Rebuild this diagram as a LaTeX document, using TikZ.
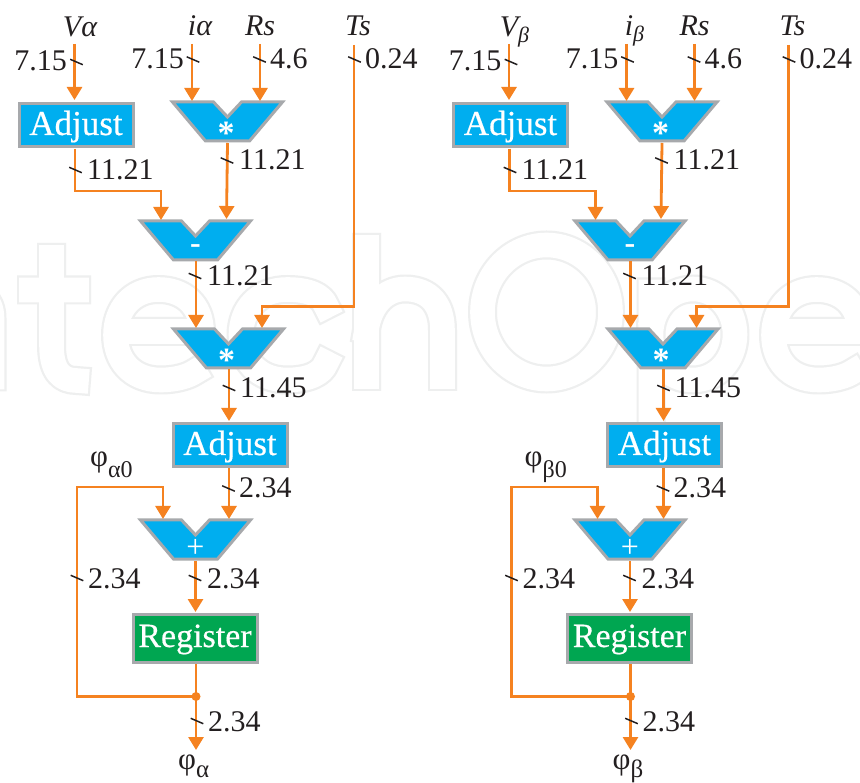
\documentclass[tikz,border=0pt]{standalone}
\usepackage{fontspec}
\setmainfont{Liberation Serif}
\newfontfamily\boxfont[FakeBold=0.45]{Liberation Serif}
\usetikzlibrary{arrows.meta,calc}
\definecolor{wire}{HTML}{F58220}
\definecolor{fillblue}{HTML}{00AEEF}
\definecolor{fillgreen}{HTML}{00A651}
\definecolor{edgegray}{HTML}{A7A9AC}
\definecolor{inkdark}{HTML}{231F20}
\definecolor{markgray}{HTML}{EEEFEF}
\newcommand{\fsz}[1]{\fontsize{#1}{#1}\selectfont}
\tikzset{
  x=1pt,y=-1pt,
  wireline/.style={draw=wire,line width=2.8pt},
  arrowline/.style={wireline,-{Triangle[length=13pt,width=15pt]}},
  tickmark/.style={draw=inkdark,line width=1.5pt},
  blockbox/.style={draw=edgegray,line width=3pt,text=white,inner sep=0pt,font=\fsz{35}\boxfont,text height=26pt,text depth=6pt},
  gateshape/.style={draw=edgegray,fill=fillblue,line width=3pt,line join=miter},
  gatelabel/.style={text=white,inner sep=0pt,anchor=base},
  widthlabel/.style={text=inkdark,inner sep=0pt,anchor=base west,font=\fsz{30}},
  widthlabelleft/.style={widthlabel,anchor=base east},
  signame/.style={text=inkdark,inner sep=0pt,anchor=base,font=\fsz{30}\itshape},
  phiname/.style={text=inkdark,inner sep=0pt,anchor=base west,font=\fsz{31}},
  markouter/.style={draw=markgray,line width=29pt,line cap=rect,line join=round},
  markinner/.style={draw=white,line width=24.6pt,line cap=rect,line join=round},
}
\newcommand{\gatepoly}[3]{%
  \path[gateshape] (#2-55,#3) -- (#2-14,#3) -- (#2,#3+15) -- (#2+14,#3) -- (#2+55,#3)
    -- (#2+22,#3+39) -- (#2-22,#3+39) -- cycle;
}
\newcommand{\tickat}[2]{\draw[tickmark] (#1-6.3,#2-2.7) -- (#1+6.3,#2+2.7);}
% faint background lettering, each letter: outer stroke, then inner stroke
\newcommand{\markletter}[1]{\path[markouter] #1;\path[markinner] #1;}
\newcommand{\markE}[1]{%
  \markletter{(#1-40,331.5) -- (#1+43,331.5) .. controls (#1+43,305) and (#1+25,289.5) .. (#1,289.5) .. controls (#1-27,289.5) and (#1-43,310) .. (#1-43,335) .. controls (#1-43,360) and (#1-27,380) .. (#1+2,380) .. controls (#1+18,380) and (#1+30,376) .. (#1+36,372)}}
% prefix, V label, i label, phi0 label, phi label
\newcommand{\channel}[5]{%
  \gatepoly{#1mulA}{227.5}{102}
  \gatepoly{#1sub}{195.5}{221}
  \gatepoly{#1mulB}{228.5}{329}
  \gatepoly{#1add}{195.5}{520}
  \node[gatelabel,font=\fsz{34}\bfseries] (#1mulAt) at (226,145) {*};
  \node[gatelabel,font=\fsz{34}\bfseries] (#1mulBt) at (226.5,372) {*};
  \node[gatelabel,font=\fsz{32}\bfseries] (#1subt) at (195.5,254) {-};
  \node[gatelabel,font=\fsz{32}] (#1addt) at (195.5,558) {+};
  \node[blockbox,fill=fillblue,minimum width=114pt,minimum height=43pt] (#1adjA) at (76,125) {Adjust};
  \node[blockbox,fill=fillblue,minimum width=114pt,minimum height=43pt] (#1adjB) at (230,445) {Adjust};
  \node[blockbox,fill=fillgreen,minimum width=124pt,minimum height=48pt,text height=25pt,text depth=7pt,font=\fsz{34}\boxfont] (#1reg) at (195,638) {Register};
  \node[signame] (#1nV) at (80,37) {#2};
  \node[signame] (#1ni) at (200,36) {#3};
  \node[signame] (#1nR) at (260,36) {Rs};
  \node[signame] (#1nT) at (358,36) {Ts};
  \node[phiname] (#1nphi0) at (90,467) {#4};
  \node[phiname] (#1nphi) at (178,769) {#5};
  % connector points
  \coordinate (#1sV) at (74.5,44);
  \coordinate (#1si) at (192,44);
  \coordinate (#1sR) at (260,44);
  \coordinate (#1sT) at (354,45);
  \coordinate (#1cT) at (354,306.5);
  \coordinate (#1dT) at (262,306.5);
  \coordinate (#1iV) at (74.5,100);
  \coordinate (#1iMa) at (192,101);
  \coordinate (#1iMb) at (260,101);
  \coordinate (#1oMa) at (227.5,143);
  \coordinate (#1iSa) at (161,220);
  \coordinate (#1iSb) at (226.5,219);
  \coordinate (#1oAa) at (75,149);
  \coordinate (#1cAa) at (75,191);
  \coordinate (#1dAa) at (161,191);
  \coordinate (#1oS) at (196,261);
  \coordinate (#1iMc) at (196,328);
  \coordinate (#1iMd) at (262,328);
  \coordinate (#1oMb) at (229,369);
  \coordinate (#1iAb) at (229,421);
  \coordinate (#1oAb) at (229,468);
  \coordinate (#1iPa) at (229,519);
  \coordinate (#1iPb) at (163,519);
  \coordinate (#1cPb) at (163,487);
  \coordinate (#1dPb) at (77,487);
  \coordinate (#1ePb) at (77,696.5);
  \coordinate (#1oP) at (195.5,561);
  \coordinate (#1iR) at (195.5,612);
  \coordinate (#1oR) at (196,664);
  \coordinate (#1out) at (196,750);
  \coordinate (#1dot) at (196,696.5);
  % connectors
  \draw[arrowline] (#1sV) -- (#1iV);
  \draw[arrowline] (#1si) -- (#1iMa);
  \draw[arrowline] (#1sR) -- (#1iMb);
  \draw[arrowline] (#1sT) -- (#1cT) -- (#1dT) -- (#1iMd);
  \draw[arrowline] (#1oAa) -- (#1cAa) -- (#1dAa) -- (#1iSa);
  \draw[arrowline] (#1oMa) -- (#1iSb);
  \draw[arrowline] (#1oS) -- (#1iMc);
  \draw[arrowline] (#1oMb) -- (#1iAb);
  \draw[arrowline] (#1oAb) -- (#1iPa);
  \draw[arrowline] (#1dot) -- (#1ePb) -- (#1dPb) -- (#1cPb) -- (#1iPb);
  \draw[arrowline] (#1oP) -- (#1iR);
  \draw[arrowline] (#1oR) -- (#1out);
  \fill[wire] (#1dot) circle (4.5pt);
  % bus width ticks
  \tickat{76.5}{62}\tickat{193}{59.5}\tickat{259.5}{59.5}\tickat{354.5}{59.5}
  \tickat{75.5}{170}\tickat{227}{160.5}\tickat{195}{276}\tickat{229}{388}
  \tickat{228.5}{488.5}\tickat{77}{578}\tickat{195}{578}\tickat{197}{721}
  % bus widths
  \node[widthlabelleft] (#1w1) at (67,71) {7.15};
  \node[widthlabelleft] (#1w2) at (184,69) {7.15};
  \node[widthlabel] (#1w3) at (270,69) {4.6};
  \node[widthlabel] (#1w4) at (365,69) {0.24};
  \node[widthlabel] (#1w5) at (87,180) {11.21};
  \node[widthlabel] (#1w6) at (239,170) {11.21};
  \node[widthlabel] (#1w7) at (207,286) {11.21};
  \node[widthlabel] (#1w8) at (240,398) {11.45};
  \node[widthlabel] (#1w9) at (239,498) {2.34};
  \node[widthlabel] (#1w10) at (88,588) {2.34};
  \node[widthlabel] (#1w11) at (207,588) {2.34};
  \node[widthlabel] (#1w12) at (208,731) {2.34};
}
\begin{document}
\begin{tikzpicture}
\useasboundingbox (0,0) rectangle (860,783);
\fill[white] (0,0) rectangle (860,783);
\begin{scope}
  \clip (0,0) rectangle (860,783);
  \markletter{(-8,377) -- (-8,318) .. controls (-8,300) and (-20,289) .. (-40,289)}
  \markletter{(51.5,257.5) -- (51.5,345) .. controls (51.5,372) and (62,380.5) .. (76.5,380.5) (31.5,290) -- (76.5,290)}
  \markE{158.5}
  \markletter{(326,306) .. controls (322,295) and (308,289.5) .. (287,289.5) .. controls (258,289.5) and (241,310) .. (241,334.5) .. controls (241,360) and (258,380) .. (287,380) .. controls (308,380) and (322,374) .. (326,363)}
  \markletter{(366.5,247.5) -- (366.5,376.5) (366.5,330) .. controls (370,305) and (385,289) .. (405,289) .. controls (430,289) and (442.5,305) .. (442.5,330) -- (442.5,376.5)}
  \path[draw=markgray,line width=29pt] (546.5,312) ellipse [x radius=64,y radius=67];
  \path[draw=white,line width=24.6pt] (546.5,312) ellipse [x radius=64,y radius=67];
  \markletter{(651,292) -- (651,440) (651,334.5) .. controls (651,309) and (669,289) .. (693,289) .. controls (717,289) and (735,309) .. (735,334.5) .. controls (735,360) and (717,380) .. (693,380) .. controls (669,380) and (651,360) .. (651,334.5)}
  \markE{816.5}
\end{scope}
\begin{scope}
\channel{a}{Vα}{iα}{φ\raisebox{-11pt}{\fsz{24}α0}}{φ\raisebox{-8pt}{\fsz{25}α}}
\end{scope}
\begin{scope}[xshift=434.5pt]
\channel{b}{V\raisebox{-6pt}{\fsz{22}β}}{i\raisebox{-6pt}{\fsz{22}β}}{φ\raisebox{-11pt}{\fsz{24}β0}}{φ\raisebox{-8pt}{\fsz{25}β}}
\end{scope}
\end{tikzpicture}
\end{document}
